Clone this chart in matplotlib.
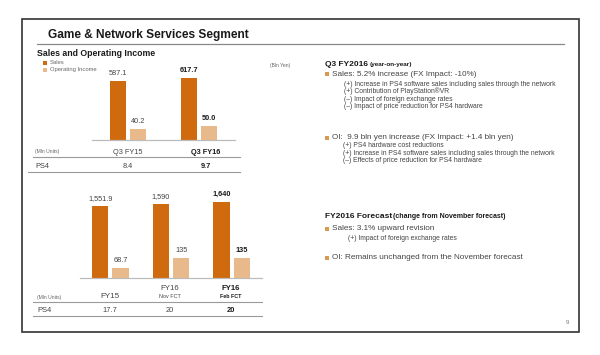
import matplotlib
matplotlib.use("Agg")
import matplotlib.pyplot as plt
from matplotlib.patches import Rectangle
from matplotlib.lines import Line2D

plt.rcParams["font.family"] = ["Liberation Sans", "DejaVu Sans"]

W, H = 600, 355
SALES_C = "#CF6A0E"
OI_C = "#E8B98A"
BULLET_C = "#D99A4E"
TXT = "#444444"
DARK = "#1a1a1a"

# quarterly (Bln Yen)
q_labels = ["Q3 FY15", "Q3 FY16"]
q_sales = [587.1, 617.7]
q_oi = [40.2, 50.0]
q_sales_txt = ["587.1", "617.7"]
q_oi_txt = ["40.2", "50.0"]
q_ps4 = ["8.4", "9.7"]

# full year
y_labels = ["FY15", "FY16", "FY16"]
y_sub = ["", "Nov FCT", "Feb FCT"]
y_sales = [1551.9, 1590, 1640]
y_oi = [68.7, 135, 135]
y_sales_txt = ["1,551.9", "1,590", "1,640"]
y_oi_txt = ["68.7", "135", "135"]
y_ps4 = ["17.7", "20", "20"]


def fx(x):
    return x / W


def fy(y):
    return 1 - y / H


def axes_px(fig, x0, x1, ytop, ybot):
    return fig.add_axes([fx(x0), fy(ybot), (x1 - x0) / W, (ybot - ytop) / H])


def hline(fig, x0, x1, y, color="#9a9a9a", lw=0.8):
    fig.add_artist(Line2D([fx(x0), fx(x1)], [fy(y), fy(y)], color=color, lw=lw))


def txt(fig, x, y, s, size=5.5, bold=False, color=TXT, ha="left"):
    fig.text(fx(x), fy(y), s, fontsize=size, fontweight="bold" if bold else "normal",
             color=color, ha=ha, va="center")


def bullet(fig, x, y):
    fig.add_artist(Rectangle((fx(x - 1.8), fy(y + 1.8)), 3.6 / W, 3.6 / H,
                             color=BULLET_C, lw=0))


def bar_panel(fig, box, sales, oi, s_txt, o_txt, s_max, o_max, gap, bw, last_bold):
    ax = axes_px(fig, *box)
    ax2 = ax.twinx()
    n = len(sales)
    xs = list(range(n))
    ax.bar([x - gap for x in xs], sales, bw, color=SALES_C)
    ax2.bar([x + gap for x in xs], oi, bw, color=OI_C)
    for i in xs:
        b = last_bold and i == n - 1
        ax.annotate(s_txt[i], (i - gap, sales[i]), xytext=(0, 3), textcoords="offset points",
                    ha="center", va="bottom", fontsize=5.3, color=DARK if b else TXT,
                    fontweight="bold" if b else "normal", annotation_clip=False)
        ax2.annotate(o_txt[i], (i + gap, oi[i]), xytext=(0, 3), textcoords="offset points",
                     ha="center", va="bottom", fontsize=5.3, color=DARK if b else TXT,
                     fontweight="bold" if b else "normal", annotation_clip=False)
    ax.set_ylim(0, s_max)
    ax2.set_ylim(0, o_max)
    for a in (ax, ax2):
        a.set_xlim(-0.5, n - 0.5)
        for sp in ("top", "left", "right"):
            a.spines[sp].set_visible(False)
        a.spines["bottom"].set_color("#bbbbbb")
        a.spines["bottom"].set_linewidth(0.8)
        a.set_yticks([])
        a.set_xticks([])
        a.patch.set_alpha(0)
    return ax


fig = plt.figure(figsize=(6, 3.55), dpi=100)

# slide frame and heading
fig.add_artist(Rectangle((fx(22), fy(332)), (579 - 22) / W, (332 - 19) / H,
                         fill=False, ec="#333333", lw=1.2))
txt(fig, 48, 35, "Game & Network Services Segment", size=8.6, bold=True, color=DARK)
hline(fig, 37, 564, 44, color="#888888", lw=0.9)
txt(fig, 37, 54, "Sales and Operating Income", size=6.3, bold=True, color=DARK)
txt(fig, 270, 65, "(Bln Yen)", size=3.6, color="#666666")

# legend
fig.add_artist(Rectangle((fx(43), fy(65)), 4 / W, 4 / H, color=SALES_C, lw=0))
txt(fig, 50, 63, "Sales", size=4.2, color="#666666")
fig.add_artist(Rectangle((fx(43), fy(72)), 4 / W, 4 / H, color=OI_C, lw=0))
txt(fig, 50, 70, "Operating Income", size=4.2, color="#666666")

# top chart
bar_panel(fig, (92, 235, 60, 140), q_sales, q_oi, q_sales_txt, q_oi_txt,
          800, 286, 0.141, 0.225, True)
q_cx = [128, 206]
txt(fig, 35, 152, "(Mln Units)", size=3.6, color="#666666")
for i, lab in enumerate(q_labels):
    b = i == len(q_labels) - 1
    txt(fig, q_cx[i], 152, lab, size=5.3, bold=b, color=DARK if b else TXT, ha="center")
    txt(fig, q_cx[i], 166, q_ps4[i], size=5.3, bold=b, color=DARK if b else TXT, ha="center")
hline(fig, 33, 240, 157)
txt(fig, 35, 166, "PS4", size=5.3)
hline(fig, 28, 240, 172)

# bottom chart
bar_panel(fig, (80, 262, 188, 278), y_sales, y_oi, y_sales_txt, y_oi_txt,
          1940, 600, 0.167, 0.267, True)
y_cx = [110, 170, 231]
txt(fig, 37, 297, "(Mln Units)", size=3.6, color="#666666")
for i, lab in enumerate(y_labels):
    b = i == len(y_labels) - 1
    c = DARK if b else TXT
    if y_sub[i]:
        txt(fig, y_cx[i], 289, lab, size=5.6, bold=b, color=c, ha="center")
        txt(fig, y_cx[i], 296, y_sub[i], size=3.9, bold=b, color=c, ha="center")
    else:
        txt(fig, y_cx[i], 297, lab, size=5.8, bold=b, color=c, ha="center")
    txt(fig, y_cx[i], 310, y_ps4[i], size=5.4, bold=b, color=c, ha="center")
hline(fig, 33, 262, 302)
txt(fig, 37, 310, "PS4", size=5.4)
hline(fig, 33, 262, 316)

# right-hand commentary
txt(fig, 325, 64, "Q3 FY2016", size=6, bold=True, color=DARK)
txt(fig, 370, 64.5, "(year-on-year)", size=4.6, bold=True, color=DARK)
bullet(fig, 327, 74)
txt(fig, 332, 74, "Sales: 5.2% increase (FX Impact: -10%)", size=5.9)
q3_sales_notes = ["(+) Increase in PS4 software sales including sales through the network",
                  "(+) Contribution of PlayStation\u00aeVR",
                  "(\u2013) Impact of foreign exchange rates",
                  "(\u2013) Impact of price reduction for PS4 hardware"]
for k, s in enumerate(q3_sales_notes):
    txt(fig, 344, 84 + 7.6 * k, s, size=4.9)
bullet(fig, 327, 138)
txt(fig, 332, 138, "OI:  9.9 bln yen increase (FX Impact: +1.4 bln yen)", size=5.9)
q3_oi_notes = ["(+) PS4 hardware cost reductions",
               "(+) Increase in PS4 software sales including sales through the network",
               "(\u2013) Effects of price reduction for PS4 hardware"]
for k, s in enumerate(q3_oi_notes):
    txt(fig, 343, 145.7 + 7.5 * k, s, size=4.9)

txt(fig, 325, 216, "FY2016 Forecast", size=6, bold=True, color=DARK)
txt(fig, 393, 216.5, "(change from November forecast)", size=5.0, bold=True, color=DARK)
bullet(fig, 327, 228.7)
txt(fig, 332, 228.7, "Sales: 3.1% upward revision", size=5.9)
txt(fig, 348, 238, "(+) Impact of foreign exchange rates", size=4.9)
bullet(fig, 327, 257.7)
txt(fig, 332, 257.7, "OI: Remains unchanged from the November forecast", size=5.9)

txt(fig, 567, 322, "9", size=4.5, color="#777777", ha="center")

fig.savefig("out.png", dpi=100)
